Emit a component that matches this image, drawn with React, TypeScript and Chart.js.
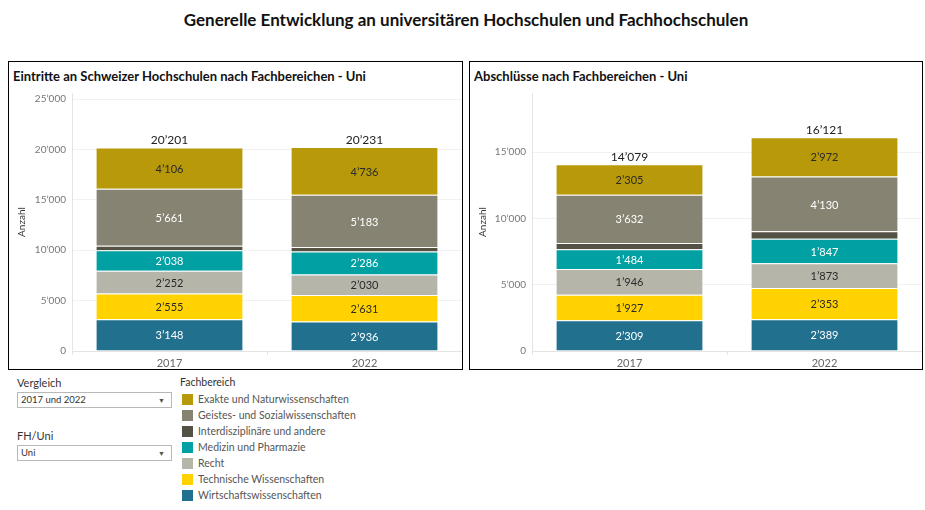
import React, { useEffect, useRef } from 'react';
import { Chart, registerables } from 'chart.js';

Chart.register(...registerables);

const pageTitle = 'Generelle Entwicklung an universitären Hochschulen und Fachhochschulen';
const titleEintritte = 'Eintritte an Schweizer Hochschulen nach Fachbereichen - Uni';
const titleAbschluesse = 'Abschlüsse nach Fachbereichen - Uni';

const years = ['2017', '2022'];

// legend order (top of stack first)
const fachbereiche = [
  'Exakte und Naturwissenschaften',
  'Geistes- und Sozialwissenschaften',
  'Interdisziplinäre und andere',
  'Medizin und Pharmazie',
  'Recht',
  'Technische Wissenschaften',
  'Wirtschaftswissenschaften',
];
const farben = ['#B8990A', '#868372', '#545245', '#00A0A3', '#B5B5AA', '#FFD200', '#20708E'];
const labelFarben = ['#2a2a2a', '#ffffff', '#ffffff', '#ffffff', '#2a2a2a', '#2a2a2a', '#ffffff'];

const eintritteExakte = [4106, 4736];
const eintritteGeistes = [5661, 5183];
const eintritteInter = [441, 429];
const eintritteMedizin = [2038, 2286];
const eintritteRecht = [2252, 2030];
const eintritteTechnik = [2555, 2631];
const eintritteWirtschaft = [3148, 2936];

const abschlExakte = [2305, 2972];
const abschlGeistes = [3632, 4130];
const abschlInter = [476, 557];
const abschlMedizin = [1484, 1847];
const abschlRecht = [1946, 1873];
const abschlTechnik = [1927, 2353];
const abschlWirtschaft = [2309, 2389];

const eintritteTicks = [0, 5000, 10000, 15000, 20000, 25000];
const abschlTicks = [0, 5000, 10000, 15000];

const eintritteSeries = [eintritteExakte, eintritteGeistes, eintritteInter, eintritteMedizin, eintritteRecht, eintritteTechnik, eintritteWirtschaft];
const abschlSeries = [abschlExakte, abschlGeistes, abschlInter, abschlMedizin, abschlRecht, abschlTechnik, abschlWirtschaft];

const vergleichWert = '2017 und 2022';
const fhUniWert = 'Uni';

const FONT = 'Lato, "Open Sans", sans-serif';

const fmt = (v: number) => Math.round(v).toString().replace(/\B(?=(\d{3})+(?!\d))/g, '\u2019');

const labelPlugin = {
  id: 'segLabels',
  afterDatasetsDraw(chart: any) {
    const ctx = chart.ctx;
    ctx.save();
    ctx.textAlign = 'center';
    const datasets = chart.data.datasets;
    datasets.forEach((ds: any, i: number) => {
      const meta = chart.getDatasetMeta(i);
      meta.data.forEach((el: any, j: number) => {
        const p = el.getProps(['x', 'y', 'base'], true);
        const h = p.base - p.y;
        if (h < 14) return;
        ctx.fillStyle = ds.labelColor;
        ctx.font = `11px ${FONT}`;
        ctx.textBaseline = 'middle';
        ctx.fillText(fmt(ds.data[j]), p.x, (p.y + p.base) / 2 + 1);
      });
    });
    const topMeta = chart.getDatasetMeta(datasets.length - 1);
    topMeta.data.forEach((el: any, j: number) => {
      const total = datasets.reduce((s: number, ds: any) => s + ds.data[j], 0);
      ctx.fillStyle = '#222';
      ctx.font = `12px ${FONT}`;
      ctx.textBaseline = 'bottom';
      ctx.fillText(fmt(total), el.x, el.y - 1);
    });
    ctx.restore();
  },
};

type PanelProps = {
  title: string;
  series: number[][];
  ticks: number[];
  max: number;
  left: number;
  width: number;
  axisWidth: number;
};

function Panel({ title, series, ticks, max, left, width, axisWidth }: PanelProps) {
  const ref = useRef<HTMLCanvasElement>(null);
  const canvasW = width - 2;
  const canvasH = 283;
  useEffect(() => {
    if (!ref.current) return;
    const order = [...series.keys()].reverse();
    const chart = new Chart(ref.current, {
      type: 'bar',
      data: {
        labels: years,
        datasets: order.map((i) => ({
          label: fachbereiche[i],
          data: series[i],
          backgroundColor: farben[i],
          borderColor: 'rgba(255,255,255,0.35)',
          borderWidth: { top: 1, left: 0, right: 0, bottom: 0 },
          borderSkipped: false,
          labelColor: labelFarben[i],
          barPercentage: 0.75,
          categoryPercentage: 1,
        })) as any,
      },
      options: {
        responsive: false,
        animation: false,
        layout: { padding: { top: 8, right: 0, left: 0, bottom: 0 } },
        plugins: { legend: { display: false }, tooltip: { enabled: false } },
        scales: {
          x: {
            stacked: true,
            grid: { drawOnChartArea: false, color: '#e4e4e4', tickLength: 4 },
            border: { color: '#e4e4e4' },
            ticks: { color: '#666', font: { family: FONT, size: 11 }, padding: 2 },
            afterFit: (s: any) => { s.height = 17; s.paddingLeft = 0; s.paddingRight = 0; },
          },
          y: {
            stacked: true,
            min: 0,
            max,
            grid: { color: '#f1f1f1', drawTicks: false },
            border: { color: '#e4e4e4' },
            afterBuildTicks: (s: any) => { s.ticks = ticks.map((v) => ({ value: v })); },
            ticks: {
              color: '#777',
              padding: 6,
              font: { family: FONT, size: 10 },
              callback: (v: any) => fmt(Number(v)),
            },
            title: {
              display: true,
              text: 'Anzahl',
              color: '#333',
              font: { family: FONT, size: 10 },
              padding: { top: 7, bottom: 0 },
            },
            afterFit: (s: any) => { s.width = axisWidth; s.paddingTop = 0; s.paddingBottom = 0; },
          },
        },
      },
      plugins: [labelPlugin],
    });
    return () => chart.destroy();
  }, []);

  return (
    <div
      style={{
        position: 'absolute',
        left,
        top: 61,
        width,
        height: 309,
        boxSizing: 'border-box',
        border: '1px solid #000',
        background: '#fff',
      }}
    >
      <div
        style={{
          position: 'absolute',
          left: 4,
          top: 6,
          fontFamily: FONT,
          fontWeight: 700,
          fontSize: 13,
          color: '#111',
          whiteSpace: 'nowrap',
        }}
      >
        {title}
      </div>
      <canvas
        ref={ref}
        width={canvasW}
        height={canvasH}
        style={{ position: 'absolute', left: 0, top: 23, width: canvasW, height: canvasH }}
      />
    </div>
  );
}

function Dropdown({ label, value, top }: { label: string; value: string; top: number }) {
  return (
    <>
      <div style={{ position: 'absolute', left: 17, top: top - 16, fontFamily: FONT, fontSize: 11, color: '#333' }}>{label}</div>
      <div
        style={{
          position: 'absolute',
          left: 17,
          top,
          width: 155,
          height: 16,
          boxSizing: 'border-box',
          border: '1px solid #b8b8b8',
          fontFamily: FONT,
          fontSize: 9.5,
          color: '#333',
          lineHeight: '14px',
          paddingLeft: 3,
        }}
      >
        {value}
        <span style={{ position: 'absolute', right: 6, top: 0, fontSize: 7, color: '#555' }}>▼</span>
      </div>
    </>
  );
}

export default function App() {
  return (
    <div style={{ position: 'fixed', left: 0, top: 0, width: 925, height: 510, background: '#fff', overflow: 'hidden' }}>
      <div
        style={{
          position: 'absolute',
          left: 0,
          width: 932,
          top: 9,
          textAlign: 'center',
          fontFamily: FONT,
          fontWeight: 700,
          fontSize: 17,
          color: '#111',
        }}
      >
        {pageTitle}
      </div>
      <Panel title={titleEintritte} series={eintritteSeries} ticks={eintritteTicks} max={25600} left={8} width={455} axisWidth={63} />
      <Panel title={titleAbschluesse} series={abschlSeries} ticks={abschlTicks} max={19450} left={469} width={454} axisWidth={62} />

      <Dropdown label="Vergleich" value={vergleichWert} top={392} />
      <Dropdown label="FH/Uni" value={fhUniWert} top={445} />

      <div style={{ position: 'absolute', left: 180, top: 376, fontFamily: FONT, fontSize: 10.5, color: '#333' }}>Fachbereich</div>
      {fachbereiche.map((f, i) => (
        <div key={f} style={{ position: 'absolute', left: 182, top: 393 + i * 16, height: 12, display: 'flex', alignItems: 'center' }}>
          <div style={{ width: 11, height: 11, background: farben[i] }} />
          <div style={{ marginLeft: 5, fontFamily: FONT, fontSize: 10.5, color: '#555', whiteSpace: 'nowrap' }}>{f}</div>
        </div>
      ))}
    </div>
  );
}
